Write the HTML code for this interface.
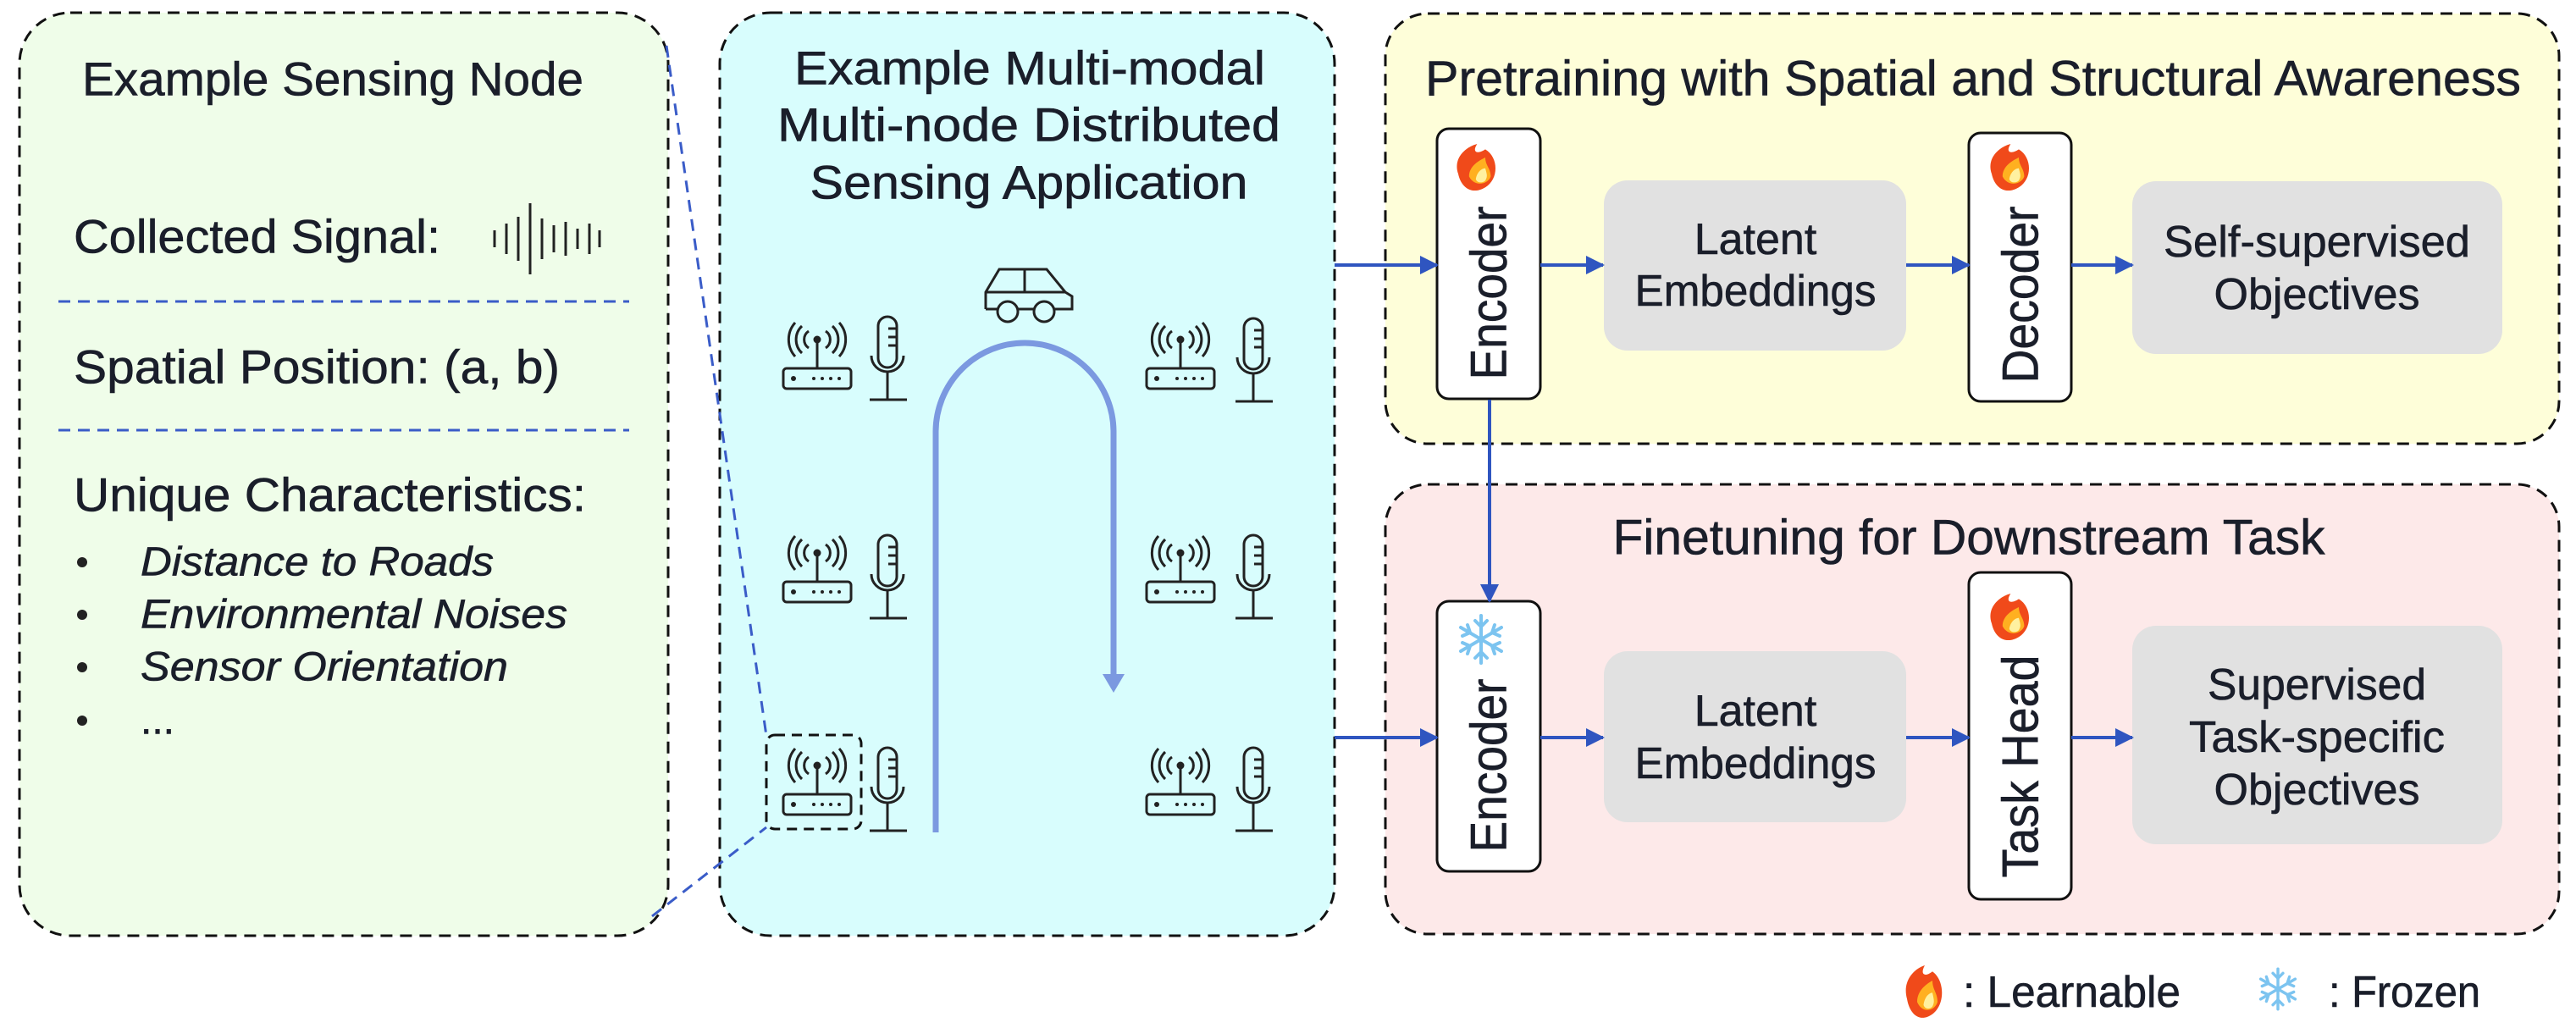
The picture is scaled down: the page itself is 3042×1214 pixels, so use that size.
<!DOCTYPE html>
<html><head><meta charset="utf-8"><style>html,body{margin:0;padding:0;background:#fff}svg{display:block}text{font-family:"Liberation Sans",sans-serif;fill:#1a1e2a;stroke:#1a1e2a;stroke-width:0.6}</style></head><body>
<svg width="3042" height="1214" viewBox="0 0 3042 1214" xmlns="http://www.w3.org/2000/svg">
<defs>
<marker id="ah" markerWidth="22" markerHeight="22" refX="20" refY="11" orient="auto" markerUnits="userSpaceOnUse" viewBox="0 0 22 22"><path d="M0,0 L22,11 L0,22z" fill="#2f55c0"/></marker>
<g id="router" fill="none" stroke="#222" stroke-width="3">
<rect x="0" y="54" width="80" height="24" rx="4"/>
<line x1="40" y1="54" x2="40" y2="22"/>
<circle cx="40" cy="20" r="3" fill="#222"/>
<path d="M30,10 A12,12 0 0 0 30,30 M50,10 A12,12 0 0 1 50,30 M22,4 A22,22 0 0 0 22,36 M58,4 A22,22 0 0 1 58,36 M14,0 A30,30 0 0 0 14,40 M66,0 A30,30 0 0 1 66,40"/>
<circle cx="12" cy="66" r="3" fill="#222" stroke="none"/>
<g fill="#222" stroke="none"><circle cx="36" cy="66" r="2"/><circle cx="46" cy="66" r="2"/><circle cx="56" cy="66" r="2"/><circle cx="66" cy="66" r="2"/></g>
</g>
<g id="mic" fill="none" stroke="#222" stroke-width="3">
<rect x="12" y="0" width="22" height="60" rx="11"/>
<line x1="24" y1="14" x2="34" y2="14"/><line x1="24" y1="24" x2="34" y2="24"/><line x1="24" y1="34" x2="34" y2="34"/>
<path d="M4,46 A19,19 0 0 0 42,46"/>
<line x1="23" y1="65" x2="23" y2="98"/><line x1="2" y1="98" x2="46" y2="98"/>
</g>
<g id="fire">
<path d="M0,22 C-4,10 6,2 14,0 C10,6 14,8 20,4 C30,10 30,26 20,32 C10,38 2,32 0,22z" fill="#f04a1a"/>
<path d="M8,24 C8,16 16,12 20,10 C20,16 24,18 24,24 C22,30 12,32 8,24z" fill="#ffb020"/>
<path d="M13,26 C14,20 18,18 20,18 C21,22 22,24 20,27 C18,29 14,29 13,26z" fill="#fff1a0"/>
</g>
<g id="snow" stroke="#7cc4f0" stroke-width="4" stroke-linecap="round" fill="none">
<line x1="0" y1="-28" x2="0" y2="28"/><line x1="-24" y1="-14" x2="24" y2="14"/><line x1="-24" y1="14" x2="24" y2="-14"/>
<path d="M-7,-22 L0,-15 L7,-22 M-7,22 L0,15 L7,22 M-22,-4 L-13,-8 L-16,-17 M22,4 L13,8 L16,17 M-22,4 L-13,8 L-16,17 M22,-4 L13,-8 L16,-17"/>
</g>
</defs>

<rect x="23" y="15" width="766" height="1090" rx="60" fill="#effde9" stroke="#111" stroke-width="3" stroke-dasharray="14,9"/>
<rect x="850" y="15" width="726" height="1090" rx="60" fill="#d8fdfd" stroke="#111" stroke-width="3" stroke-dasharray="14,9"/>
<rect x="1636" y="16" width="1386" height="508" rx="50" fill="#fefed9" stroke="#111" stroke-width="3" stroke-dasharray="14,9"/>
<rect x="1636" y="572" width="1386" height="531" rx="50" fill="#fde9e9" stroke="#111" stroke-width="3" stroke-dasharray="14,9"/>

<text x="97" y="93" font-size="56" dominant-baseline="central" textLength="592" lengthAdjust="spacingAndGlyphs">Example Sensing Node</text>
<text x="87" y="279" font-size="56" dominant-baseline="central" textLength="433" lengthAdjust="spacingAndGlyphs">Collected Signal:</text>
<g stroke="#222" stroke-width="3">
<line x1="584" y1="272" x2="584" y2="292"/><line x1="598" y1="264" x2="598" y2="300"/><line x1="612" y1="256" x2="612" y2="308"/><line x1="626" y1="240" x2="626" y2="324"/><line x1="640" y1="258" x2="640" y2="306"/><line x1="654" y1="266" x2="654" y2="298"/><line x1="668" y1="262" x2="668" y2="302"/><line x1="682" y1="270" x2="682" y2="294"/><line x1="696" y1="264" x2="696" y2="300"/><line x1="708" y1="272" x2="708" y2="292"/>
</g>
<line x1="69" y1="356" x2="743" y2="356" stroke="#3a5cc8" stroke-width="3" stroke-dasharray="14,9"/>
<text x="87" y="433" font-size="56" dominant-baseline="central" textLength="574" lengthAdjust="spacingAndGlyphs">Spatial Position: (a, b)</text>
<line x1="69" y1="508" x2="743" y2="508" stroke="#3a5cc8" stroke-width="3" stroke-dasharray="14,9"/>
<text x="87" y="584" font-size="56" dominant-baseline="central" textLength="605" lengthAdjust="spacingAndGlyphs">Unique Characteristics:</text>
<g font-size="48" font-style="italic">
<circle cx="97" cy="664" r="6" fill="#222"/><text x="166" y="664" dominant-baseline="central" textLength="417" lengthAdjust="spacingAndGlyphs">Distance to Roads</text>
<circle cx="97" cy="726" r="6" fill="#222"/><text x="166" y="726" dominant-baseline="central" textLength="504" lengthAdjust="spacingAndGlyphs">Environmental Noises</text>
<circle cx="97" cy="788" r="6" fill="#222"/><text x="166" y="788" dominant-baseline="central" textLength="434" lengthAdjust="spacingAndGlyphs">Sensor Orientation</text>
<circle cx="97" cy="851" r="6" fill="#222"/><text x="166" y="851" dominant-baseline="central" font-style="normal">...</text>
</g>

<line x1="787" y1="54" x2="905" y2="869" stroke="#3a5cc8" stroke-width="3" stroke-dasharray="14,9"/>
<line x1="770" y1="1082" x2="905" y2="977" stroke="#3a5cc8" stroke-width="3" stroke-dasharray="14,9"/>

<g font-size="56" text-anchor="middle">
<text x="1216" y="80" dominant-baseline="central" textLength="556" lengthAdjust="spacingAndGlyphs">Example Multi-modal</text>
<text x="1215" y="147" dominant-baseline="central" textLength="594" lengthAdjust="spacingAndGlyphs">Multi-node Distributed</text>
<text x="1215" y="215" dominant-baseline="central" textLength="517" lengthAdjust="spacingAndGlyphs">Sensing Application</text>
</g>
<g fill="none" stroke="#222" stroke-width="3">
<path d="M1164,365 L1164,345 L1180,318 L1236,318 L1258,345 L1266,350 L1266,365 L1244,365 M1222,365 L1201,365 M1180,365 L1164,365"/>
<line x1="1164" y1="345" x2="1258" y2="345"/><line x1="1210" y1="318" x2="1210" y2="345"/>
<circle cx="1190" cy="368" r="12" fill="#d8fdfd"/><circle cx="1233" cy="368" r="12" fill="#d8fdfd"/>
</g>
<path d="M1105,983 L1105,510 A105,105 0 0 1 1315,510 L1315,800" fill="none" stroke="#7b99e0" stroke-width="7"/>
<path d="M1302,796 L1328,796 L1315,818z" fill="#7b99e0"/>
<use href="#router" x="925" y="381"/><use href="#mic" x="1025" y="374"/>
<use href="#router" x="925" y="633"/><use href="#mic" x="1025" y="632"/>
<use href="#router" x="925" y="884"/><use href="#mic" x="1025" y="883"/>
<use href="#router" x="1354" y="381"/><use href="#mic" x="1457" y="376"/>
<use href="#router" x="1354" y="633"/><use href="#mic" x="1457" y="632"/>
<use href="#router" x="1354" y="884"/><use href="#mic" x="1457" y="883"/>
<rect x="905" y="868" width="112" height="111" rx="10" fill="none" stroke="#111" stroke-width="3" stroke-dasharray="12,8"/>

<text x="2330" y="93" font-size="58" text-anchor="middle" dominant-baseline="central" textLength="1294" lengthAdjust="spacingAndGlyphs">Pretraining with Spatial and Structural Awareness</text>
<text x="2325" y="635" font-size="58" text-anchor="middle" dominant-baseline="central" textLength="841" lengthAdjust="spacingAndGlyphs">Finetuning for Downstream Task</text>

<g stroke="#111" stroke-width="3" fill="#fff">
<rect x="1697" y="152" width="122" height="319" rx="14"/>
<rect x="2325" y="157" width="121" height="317" rx="14"/>
<rect x="1697" y="710" width="122" height="319" rx="14"/>
<rect x="2325" y="676" width="121" height="386" rx="14"/>
</g>
<g fill="#e1e1e1">
<rect x="1894" y="213" width="357" height="201" rx="28"/>
<rect x="2518" y="214" width="437" height="204" rx="28"/>
<rect x="1894" y="769" width="357" height="202" rx="28"/>
<rect x="2518" y="739" width="437" height="258" rx="28"/>
</g>
<g font-size="60" text-anchor="middle" dominant-baseline="central">
<text transform="translate(1758,346) rotate(-90)" textLength="205" lengthAdjust="spacingAndGlyphs">Encoder</text>
<text transform="translate(2386,348) rotate(-90)" textLength="209" lengthAdjust="spacingAndGlyphs">Decoder</text>
<text transform="translate(1758,904) rotate(-90)" textLength="205" lengthAdjust="spacingAndGlyphs">Encoder</text>
<text transform="translate(2386,905) rotate(-90)" textLength="263" lengthAdjust="spacingAndGlyphs">Task Head</text>
</g>
<g font-size="52" text-anchor="middle" dominant-baseline="central">
<text x="2073" y="283">Latent</text><text x="2073" y="344" textLength="285" lengthAdjust="spacingAndGlyphs">Embeddings</text>
<text x="2736" y="286" textLength="362" lengthAdjust="spacingAndGlyphs">Self-supervised</text><text x="2736" y="348" textLength="243" lengthAdjust="spacingAndGlyphs">Objectives</text>
<text x="2073" y="840">Latent</text><text x="2073" y="902" textLength="285" lengthAdjust="spacingAndGlyphs">Embeddings</text>
<text x="2736" y="809" textLength="258" lengthAdjust="spacingAndGlyphs">Supervised</text><text x="2736" y="871" textLength="302" lengthAdjust="spacingAndGlyphs">Task-specific</text><text x="2736" y="933" textLength="243" lengthAdjust="spacingAndGlyphs">Objectives</text>
</g>
<use href="#fire" transform="translate(1722,170) scale(1.6)"/>
<use href="#fire" transform="translate(2352,170) scale(1.6)"/>
<use href="#fire" transform="translate(2352,701) scale(1.6)"/>
<use href="#snow" x="1749" y="755"/>

<g stroke="#2f55c0" stroke-width="4" marker-end="url(#ah)">
<line x1="1576" y1="313" x2="1697" y2="313"/>
<line x1="1819" y1="313" x2="1893" y2="313"/>
<line x1="2251" y1="313" x2="2325" y2="313"/>
<line x1="2446" y1="313" x2="2518" y2="313"/>
<line x1="1576" y1="871" x2="1697" y2="871"/>
<line x1="1819" y1="871" x2="1893" y2="871"/>
<line x1="2251" y1="871" x2="2325" y2="871"/>
<line x1="2446" y1="871" x2="2518" y2="871"/>
<line x1="1759" y1="472" x2="1759" y2="710"/>
</g>

<use href="#fire" transform="translate(2252,1140) scale(1.5,1.8)"/>
<text x="2318" y="1172" font-size="52" dominant-baseline="central" textLength="257" lengthAdjust="spacingAndGlyphs">: Learnable</text>
<use href="#snow" transform="translate(2690,1168) scale(0.85)"/>
<text x="2750" y="1172" font-size="52" dominant-baseline="central" textLength="179" lengthAdjust="spacingAndGlyphs">: Frozen</text>
</svg>
</body></html>
